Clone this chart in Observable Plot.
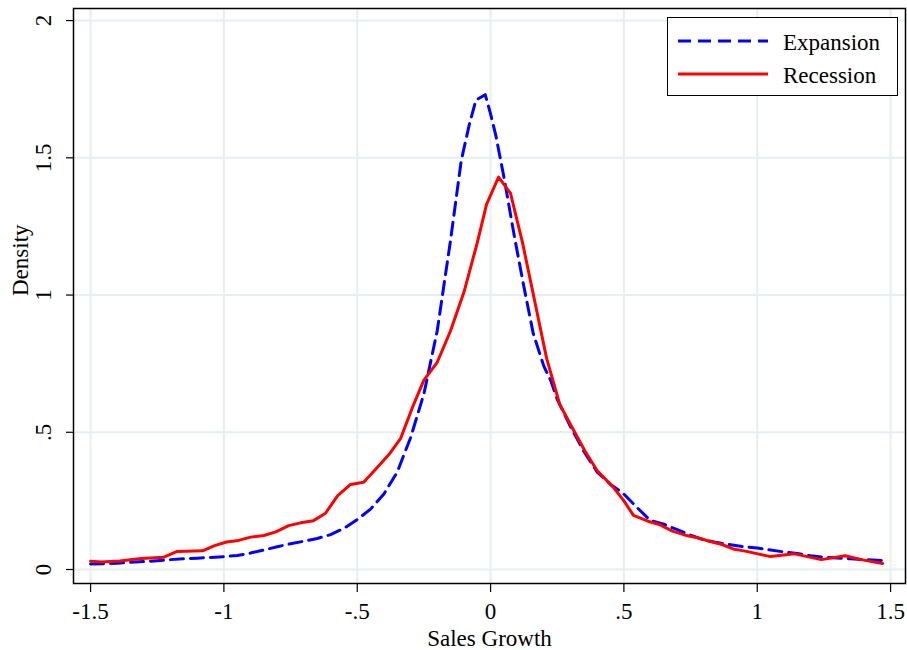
<!DOCTYPE html>
<html>
<head>
<meta charset="utf-8">
<script src="https://cdn.jsdelivr.net/npm/d3@7"></script>
<script src="https://cdn.jsdelivr.net/npm/@observablehq/plot@0.6"></script>
<style>
  html, body { margin: 0; padding: 0; background: #fff; }
  #wrap { position: relative; width: 907px; height: 650px; font-family: "Liberation Serif", "Times New Roman", serif; }
  #legend { position: absolute; left: 667px; top: 17px; width: 231px; height: 79px; border: 1px solid #000; background: #fff; box-sizing: border-box; }
</style>
</head>
<body>
<div id="wrap"></div>
<script>
// Tick values and labels
const xTicks = [-1.5, -1, -0.5, 0, 0.5, 1, 1.5];
const yTicks = [0, 0.5, 1, 1.5, 2];
const seriesNames = ["Expansion", "Recession"];

// Expansion density (x = sales growth, y = density)
const expX = [-1.50,-1.45,-1.40,-1.35,-1.30,-1.25,-1.20,-1.15,-1.10,-1.05,-1.00,-0.95,-0.90,-0.85,-0.80,-0.75,-0.70,-0.65,-0.60,-0.55,-0.50,-0.45,-0.40,-0.35,-0.30,-0.25,-0.20,-0.15,-0.11,-0.08,-0.055,-0.02,0.00,0.02,0.05,0.09,0.125,0.16,0.20,0.225,0.25,0.30,0.35,0.40,0.45,0.50,0.55,0.60,0.65,0.70,0.75,0.80,0.85,0.90,0.95,1.00,1.05,1.10,1.15,1.20,1.25,1.30,1.35,1.40,1.47];
const expY = [0.020,0.021,0.023,0.026,0.029,0.032,0.036,0.039,0.041,0.044,0.047,0.051,0.060,0.071,0.083,0.094,0.103,0.113,0.127,0.150,0.182,0.220,0.275,0.355,0.480,0.640,0.870,1.20,1.49,1.62,1.71,1.73,1.66,1.58,1.43,1.21,1.03,0.86,0.74,0.69,0.62,0.52,0.43,0.355,0.31,0.275,0.225,0.178,0.165,0.145,0.125,0.108,0.098,0.090,0.083,0.078,0.071,0.064,0.058,0.050,0.045,0.042,0.039,0.036,0.033];

// Recession density
const recX = [-1.50,-1.46,-1.39,-1.31,-1.225,-1.175,-1.08,-1.035,-0.99,-0.945,-0.90,-0.85,-0.805,-0.757,-0.712,-0.664,-0.619,-0.574,-0.525,-0.476,-0.431,-0.382,-0.337,-0.289,-0.25,-0.20,-0.15,-0.10,-0.05,-0.015,0.03,0.075,0.12,0.165,0.21,0.26,0.31,0.355,0.40,0.46,0.50,0.536,0.59,0.63,0.682,0.73,0.776,0.82,0.865,0.91,0.96,1.05,1.14,1.24,1.33,1.39,1.47];
const recY = [0.030,0.027,0.031,0.040,0.045,0.066,0.068,0.087,0.100,0.106,0.118,0.124,0.137,0.160,0.170,0.178,0.205,0.268,0.310,0.318,0.365,0.418,0.478,0.600,0.690,0.755,0.87,1.01,1.19,1.33,1.43,1.37,1.19,0.98,0.77,0.60,0.51,0.43,0.36,0.30,0.250,0.197,0.176,0.165,0.140,0.125,0.116,0.103,0.092,0.075,0.066,0.047,0.057,0.036,0.050,0.036,0.022];

const expansion = expX.map((x, i) => ({x, y: expY[i]}));
const recession = recX.map((x, i) => ({x, y: recY[i]}));

const fmt = d => d === 0 ? "0" : String(d).replace(/^(-?)0\./, "$1.");
const gridColor = "#e6eef1";
const FS = 23;

const chart = Plot.plot({
  width: 907,
  height: 650,
  marginLeft: 73,
  marginRight: 2,
  marginTop: 8,
  marginBottom: 67,
  style: { fontFamily: "'Liberation Serif', 'Times New Roman', serif", fontSize: FS + "px", background: "#fff", color: "#000" },
  x: { domain: [-1.564, 1.556] },
  y: { domain: [-0.051, 2.044] },
  marks: [
    Plot.gridX(xTicks, { stroke: gridColor, strokeOpacity: 1, strokeWidth: 2 }),
    Plot.gridY(yTicks, { stroke: gridColor, strokeOpacity: 1, strokeWidth: 2 }),
    Plot.line(expansion, { x: "x", y: "y", stroke: "#0000ff", strokeWidth: 3, strokeDasharray: "13,7", curve: "linear" }),
    Plot.line(recession, { x: "x", y: "y", stroke: "#ff0000", strokeWidth: 3, curve: "linear" }),
    Plot.frame({ stroke: "#000", strokeWidth: 1.5 }),
    Plot.axisX({ ticks: xTicks, tickFormat: fmt, tickSize: 9, tickPadding: 10, fontSize: FS, label: null, stroke: "#000", strokeWidth: 1.2 }),
    Plot.axisY({ ticks: yTicks, tickFormat: fmt, tickSize: 7, tickPadding: 16, tickRotate: -90, fontSize: FS, label: null, stroke: "#000", strokeWidth: 1.2 }),
    Plot.text(["Sales Growth"], { text: d => d, frameAnchor: "bottom", dy: 62, lineAnchor: "bottom", fontSize: FS }),
    Plot.text(["Density"], { text: d => d, frameAnchor: "left", dx: -46, rotate: -90, lineAnchor: "bottom", fontSize: FS })
  ]
});

const wrap = document.getElementById("wrap");
wrap.appendChild(chart);

// Legend (inside the plot area, top right)
const legend = document.createElement("div");
legend.id = "legend";
const ns = "http://www.w3.org/2000/svg";
const lsvg = document.createElementNS(ns, "svg");
lsvg.setAttribute("width", 229);
lsvg.setAttribute("height", 77);
lsvg.style.display = "block";
const styles = [
  { stroke: "#0000ff", dash: "13,7" },
  { stroke: "#ff0000", dash: null }
];
seriesNames.forEach((name, i) => {
  const y = 23 + i * 33;
  const ln = document.createElementNS(ns, "line");
  ln.setAttribute("x1", 10); ln.setAttribute("x2", 100);
  ln.setAttribute("y1", y); ln.setAttribute("y2", y);
  ln.setAttribute("stroke", styles[i].stroke);
  ln.setAttribute("stroke-width", 3);
  if (styles[i].dash) ln.setAttribute("stroke-dasharray", styles[i].dash);
  lsvg.appendChild(ln);
  const t = document.createElementNS(ns, "text");
  t.setAttribute("x", 115);
  t.setAttribute("y", y + 9);
  t.setAttribute("font-family", "'Liberation Serif', 'Times New Roman', serif");
  t.setAttribute("font-size", FS);
  t.textContent = name;
  lsvg.appendChild(t);
});
legend.appendChild(lsvg);
wrap.appendChild(legend);
</script>
</body>
</html>
